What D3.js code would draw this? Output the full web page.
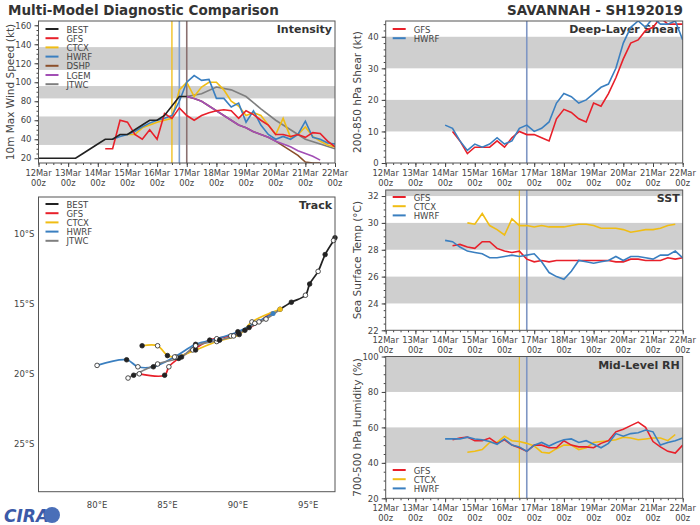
<!DOCTYPE html>
<html><head><meta charset="utf-8">
<script src="https://cdn.jsdelivr.net/npm/d3@7"></script>
<style>body{margin:0;background:#fff}text{font-family:"DejaVu Sans",sans-serif}</style>
</head><body><svg id="c" width="700" height="525"></svg>
<script>
// ---- data (hours from 12Mar00, 6-hourly) ----
const dayTicks=["12Mar","13Mar","14Mar","15Mar","16Mar","17Mar","18Mar","19Mar","20Mar","21Mar","22Mar"];
const bestStart=0, bestV=[20,20,20,20,20,20,25,30,35,40,40,45,45,50,55,60,60,65,75,85,85];
const gfsStart=54, gfsV=[30,30,60,58,45,40,50,40,67,62,73,65,60,65,68,70,71,70,62,70,66,60,55,45,45,43,45,42,47,46,38,32];
const ctcxStart=72, ctcxV=[45,45,52,55,58,60,62,92,100,85,95,100,100,92,80,75,65,68,65,55,45,62,42,45,53,43,38,34,32];
const hwrfStart=60, hwrfV=[40,43,45,48,53,57,60,62,65,80,100,107,102,103,83,83,74,78,58,70,55,45,40,43,40,45,59,42,40,36,35,41];
const dshpStart=120, dshpV=[85,83,80,75,70,65,60,55,52,48,45,42,38,33,28,23,16,15,15];
const lgemStart=120, lgemV=[85,83,80,75,70,65,60,55,52,48,45,42,38,35,32,28,25,22,18];
const jtwcStart=120, jtwcStep=12, jtwcV=[85,88,95,92,85,72,60,50,40,35,30];
const shearGfsStart=54, shearGfs=[10,7,3,5,5,5,7,5,8,10,9,9,8,7,14,17,16,14,13,19,18,22,27,33,38,39,42,43,46,44,44,44];
const shearHwrfStart=48, shearHwrf=[12,11,7,4,6,5,6,8,6,7,11,12,10,11,13,19,22,21,19,20,22,24,25,30,38,43,45,43,46,44,44,45,39];
const sstCtcxStart=66, sstCtcx=[30.0,29.9,30.7,29.8,29.5,29.1,30.3,29.8,29.8,29.7,29.8,29.7,29.7,29.7,29.8,29.9,29.9,29.8,29.6,29.6,29.6,29.5,29.3,29.4,29.5,29.5,29.6,29.8,29.9];
const sstGfsStart=54, sstGfs=[28.3,28.4,28.2,28.1,28.6,28.6,28.1,27.9,27.8,27.9,27.3,27.1,27.2,27.1,27.2,27.2,27.2,27.2,27.2,27.2,27.2,27.2,27.1,27.1,27.3,27.3,27.2,27.2,27.2,27.4,27.3,27.4];
const sstHwrfStart=48, sstHwrf=[28.7,28.6,28.2,27.9,27.8,27.7,27.4,27.4,27.5,27.6,27.5,27.6,27.7,27.1,26.3,26.0,25.8,26.4,27.2,27.1,27.0,27.1,27.2,27.5,27.2,27.5,27.5,27.4,27.3,27.6,27.6,27.9,27.4];
const rhGfsStart=54, rhGfs=[53,54,54.5,52.5,52.5,54,51,53,50,48.5,46.5,50,50,48.5,48.5,52.5,50,49,49,48.5,51,52.5,57.5,59,61,63,60,52,49,46.5,45.5,50];
const rhCtcxStart=66, rhCtcx=[46,46.5,47.5,51.5,51.5,55,52.5,52,51,49.5,46,45.5,48,50,50,47.5,48.5,51.5,52,52.5,53,54.5,54,53,53.5,54,54,52.5,56];
const rhHwrfStart=48, rhHwrf=[53.5,53.5,53.5,54.5,53.5,53,52,50.5,53.5,50,49,46.5,50,51.5,49.5,51.5,53,53.5,51.5,52.5,50.5,48.5,51,56.5,55,56.5,57,58.5,57.5,50,51.5,52.5,54];
const trkBest=[[96.9,10.3],[96.8,10.5],[96.2,11.5],[95.7,12.7],[95.1,13.6],[94.8,14.4],[93.8,14.9],[93.0,15.4]];
const trkJtwc=[[93.0,15.4],[92.0,16.1],[90.8,16.7],[89.7,17.3],[88.7,17.6],[87.0,18.0],[86.0,18.8],[84.3,19.3],[82.6,20.1],[82.2,20.3]];
const trkGfs=[[92.4,15.6],[91.5,16.3],[90.5,16.9],[89.5,17.3],[88.0,17.6],[86.8,18.3],[85.8,18.9],[85.1,19.5],[84.8,20.1],[83.0,20.0]];
const trkCtcx=[[93.0,15.4],[91.0,16.3],[90.1,17.2],[88.5,17.7],[87.0,18.3],[85.6,18.8],[85.0,18.7],[84.3,18.0],[83.2,18.0]];
const trkHwrf=[[92.5,15.7],[91.2,16.4],[90.0,17.0],[88.5,17.5],[87.0,17.9],[85.5,18.8],[84.0,19.5],[82.9,19.5],[82.1,19.0],[80.0,19.4]];
const C={BEST:"#222",GFS:"#e8202a",CTCX:"#f0bd14",HWRF:"#3a7fc0",DSHP:"#8b4f2a",LGEM:"#a24fb5",JTWC:"#7f7f7f"};

const svg=d3.select("#c");
const ser=(start,vals,step=6)=>vals.map((v,i)=>[start+i*step,v]);
let clipN=0;
function panel(o){
  const g=svg.append("g");
  const x=d3.scaleLinear().domain([0,240]).range([o.x0,o.x1]);
  const y=d3.scaleLinear().domain(o.yd).range([o.y1,o.y0]);
  o.bands.forEach(b=>g.append("rect").attr("x",o.x0).attr("width",o.x1-o.x0)
    .attr("y",y(Math.min(b[1],o.yd[1]))).attr("height",y(b[0])-y(Math.min(b[1],o.yd[1]))).attr("fill","#cfcfcf"));
  g.append("g").attr("transform",`translate(0,${o.y1})`)
    .call(d3.axisBottom(x).tickValues(d3.range(0,241,24)).tickSize(4).tickFormat(""));
  g.append("g").attr("transform",`translate(0,${o.y1})`)
    .call(d3.axisBottom(x).tickValues(d3.range(0,241,6)).tickSize(2).tickFormat(""));
  dayTicks.forEach((t,i)=>{
    g.append("text").attr("x",x(i*24)).attr("y",o.y1+13).attr("text-anchor","middle").attr("font-size",8.3).attr("fill","#444").text(t);
    g.append("text").attr("x",x(i*24)).attr("y",o.y1+23).attr("text-anchor","middle").attr("font-size",8.3).attr("fill","#444").text("00z");
  });
  g.append("g").attr("transform",`translate(${o.x0},0)`)
    .call(d3.axisLeft(y).tickValues(o.yt).tickSize(4)).call(s=>s.selectAll("text").attr("font-size",8.5).attr("fill","#444"));
  if(o.ym) g.append("g").attr("transform",`translate(${o.x0},0)`).call(d3.axisLeft(y).tickValues(o.ym).tickSize(2).tickFormat(""));
  g.selectAll(".domain").remove(); g.selectAll("line").attr("stroke","#444");
  g.append("text").attr("transform",`translate(${o.x0-25},${(o.y0+o.y1)/2}) rotate(-90)`).attr("text-anchor","middle").attr("font-size",10.5).attr("fill","#444").text(o.ylab);
  g.append("text").attr("x",o.x1-3).attr("y",o.y0+12).attr("text-anchor","end").attr("font-size",11).attr("font-weight","bold").attr("fill","#333").text(o.title);
  const clip="cl"+(clipN++); g.append("clipPath").attr("id",clip).append("rect").attr("x",o.x0).attr("y",o.y0).attr("width",o.x1-o.x0).attr("height",o.y1-o.y0);
  const lg=g.append("g").attr("clip-path",`url(#${clip})`);
  (o.vlines||[]).forEach(v=>lg.append("line").attr("x1",x(v[0])).attr("x2",x(v[0])).attr("y1",o.y0).attr("y2",o.y1).attr("stroke",v[1]).attr("stroke-width",v[2]||1.3));
  const line=d3.line().x(d=>x(d[0])).y(d=>y(d[1]));
  o.series.forEach(s=>lg.append("path").attr("d",line(s[1])).attr("fill","none").attr("stroke",C[s[0]]).attr("stroke-width",1.6));
  g.append("rect").attr("x",o.x0).attr("y",o.y0).attr("width",o.x1-o.x0).attr("height",o.y1-o.y0).attr("fill","none").attr("stroke","#555").attr("stroke-width",1);
  o.legend.forEach((n,i)=>{
    const yy=o.legY+i*9.2;
    g.append("line").attr("x1",o.x0+7).attr("x2",o.x0+20).attr("y1",yy).attr("y2",yy).attr("stroke",C[n]).attr("stroke-width",2);
    g.append("text").attr("x",o.x0+28).attr("y",yy+3.5).attr("font-size",8.5).attr("fill","#444").text(n);
  });
  return {x,y,g};
}
svg.append("text").attr("x",8).attr("y",15).attr("font-size",13.5).attr("font-weight","bold").attr("fill","#333").text("Multi-Model Diagnostic Comparison");
svg.append("text").attr("x",683).attr("y",15).attr("text-anchor","end").attr("font-size",13.5).attr("font-weight","bold").attr("fill","#333").text("SAVANNAH - SH192019");

panel({x0:38.5,x1:335,y0:21,y1:163,yd:[15,164.5],yt:d3.range(20,161,20),ym:d3.range(25,165,5),bands:[[34,64],[83,96],[113,137]],
  ylab:"10m Max Wind Speed (kt)",title:"Intensity",legY:29,legend:["BEST","GFS","CTCX","HWRF","DSHP","LGEM","JTWC"],
  vlines:[[108,"#f0bd14"],[114,"#7fa0cc",1.6],[120,"#8a7070",1.6]],
  series:[["JTWC",ser(jtwcStart,jtwcV,jtwcStep)],["DSHP",ser(dshpStart,dshpV)],["LGEM",ser(lgemStart,lgemV)],["CTCX",ser(ctcxStart,ctcxV)],["HWRF",ser(hwrfStart,hwrfV)],["GFS",ser(gfsStart,gfsV)],["BEST",ser(bestStart,bestV)]]});
panel({x0:385.7,x1:682.7,y0:21,y1:163,yd:[0,45],yt:d3.range(0,41,10),ym:d3.range(0,46,2),bands:[[10,20],[30,40]],
  ylab:"200-850 hPa Shear (kt)",title:"Deep-Layer Shear",legY:29,legend:["GFS","HWRF"],vlines:[[114,"#7f96c4",1.6]],
  series:[["GFS",ser(shearGfsStart,shearGfs)],["HWRF",ser(shearHwrfStart,shearHwrf)]]});
panel({x0:385.7,x1:682.7,y0:190,y1:330.3,yd:[22,32.45],yt:d3.range(22,33,2),ym:d3.range(22,32.5,0.5),bands:[[24,26],[28,30],[32,33]],
  ylab:"Sea Surface Temp (°C)",title:"SST",legY:197,legend:["GFS","CTCX","HWRF"],vlines:[[108,"#f0bd14",1.1],[114,"#7f96c4",1.6]],
  series:[["CTCX",ser(sstCtcxStart,sstCtcx)],["GFS",ser(sstGfsStart,sstGfs)],["HWRF",ser(sstHwrfStart,sstHwrf)]]});
panel({x0:385.7,x1:682.7,y0:356.5,y1:498.3,yd:[20,100],yt:d3.range(20,101,20),ym:d3.range(20,101,5),bands:[[40,60],[80,100]],
  ylab:"700-500 hPa Humidity (%)",title:"Mid-Level RH",legY:470,legend:["GFS","CTCX","HWRF"],vlines:[[108,"#f0bd14",1.1],[114,"#7f96c4",1.6]],
  series:[["CTCX",ser(rhCtcxStart,rhCtcx)],["GFS",ser(rhGfsStart,rhGfs)],["HWRF",ser(rhHwrfStart,rhHwrf)]]});

// Track
(function(){
  const x0=38.5,x1=335,y0=197,y1=491.7;
  const g=svg.append("g");
  const x=d3.scaleLinear().domain([75.84,96.9]).range([x0,x1]);
  const y=d3.scaleLinear().domain([7.4,28.4]).range([y0,y1]);
  [80,85,90,95].forEach(v=>g.append("text").attr("x",x(v)).attr("y",y1+16).attr("text-anchor","middle").attr("font-size",8.5).attr("fill","#444").text(v+"°E"));
  [10,15,20,25].forEach(v=>g.append("text").attr("x",x0-4).attr("y",y(v)+3.5).attr("text-anchor","end").attr("font-size",8.5).attr("fill","#444").text(v+"°S"));
  const line=d3.line().x(d=>x(d[0])).y(d=>y(d[1])).curve(d3.curveCatmullRom);
  const tr=[["GFS",trkGfs],["CTCX",trkCtcx],["HWRF",trkHwrf],["JTWC",trkJtwc],["BEST",trkBest]];
  tr.forEach(s=>g.append("path").attr("d",line(s[1])).attr("fill","none").attr("stroke",C[s[0]]).attr("stroke-width",1.7));
  tr.forEach(s=>s[1].forEach((p,i)=>{ if(i===0&&s[0]!=="BEST")return;
    g.append("circle").attr("cx",x(p[0])).attr("cy",y(p[1])).attr("r",2.3).attr("fill",i%2?"#fff":"#222").attr("stroke","#222").attr("stroke-width",0.8);}));
  g.append("circle").attr("cx",x(93.0)).attr("cy",y(15.4)).attr("r",2.5).attr("fill",C.CTCX);
  g.append("circle").attr("cx",x(92.5)).attr("cy",y(15.7)).attr("r",2.5).attr("fill",C.HWRF);
  g.append("rect").attr("x",x0).attr("y",y0).attr("width",x1-x0).attr("height",y1-y0).attr("fill","none").attr("stroke","#555");
  g.append("text").attr("x",x1-3).attr("y",y0+12).attr("text-anchor","end").attr("font-size",11).attr("font-weight","bold").attr("fill","#333").text("Track");
  ["BEST","GFS","CTCX","HWRF","JTWC"].forEach((n,i)=>{
    const yy=y0+7+i*9.2;
    g.append("line").attr("x1",x0+7).attr("x2",x0+20).attr("y1",yy).attr("y2",yy).attr("stroke",C[n]).attr("stroke-width",2);
    g.append("text").attr("x",x0+28).attr("y",yy+3.5).attr("font-size",8.5).attr("fill","#444").text(n);
  });
  svg.append("text").attr("x",4).attr("y",522).attr("font-size",17).attr("font-weight","bold").attr("fill","#3b5aa8").attr("font-style","italic").text("CIRA");
  svg.append("circle").attr("cx",52).attr("cy",515).attr("r",8).attr("fill","#4a6fb8");
})();
</script></body></html>
